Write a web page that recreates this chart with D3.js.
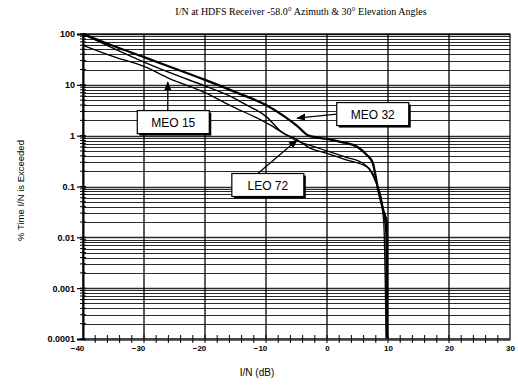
<!DOCTYPE html>
<html>
<head>
<meta charset="utf-8">
<script src="https://cdn.jsdelivr.net/npm/d3@7"></script>
<style>
  body { margin: 0; background: #fff; }
  svg { display: block; }
  .tick text { font-family: Arial, "Liberation Sans", sans-serif; font-size: 9px; font-weight: bold; fill: #000; }
</style>
</head>
<body>
<div id="chart"></div>
<script>
// I/N values (dB) and % time exceeded
var meo32X = [-40, -35, -30, -25, -20, -15, -10, -7, -5, -3, 0, 3, 5, 6.5, 7.5, 8.4, 9.2, 9.8, 9.85];
var meo32Y = [100, 58, 35, 21, 12.5, 7.2, 4.0, 2.4, 1.6, 1.0, 0.86, 0.72, 0.6, 0.42, 0.29, 0.084, 0.035, 0.019, 0.0001];

var leo72X = [-40, -35, -30, -25, -20, -15, -13.8, -10, -7.2, -5, -2.8, 0, 3.3, 6.6, 7.9, 9, 9.7, 9.75];
var leo72Y = [100, 52, 28, 16, 9.5, 5.3, 4.4, 2.4, 1.12, 0.85, 0.57, 0.45, 0.33, 0.24, 0.13, 0.05, 0.01, 0.0001];

var meo15X = [-40, -35, -30, -26, -20, -16, -10, -7, -5, -2, 0, 3, 6, 7.5, 8.5, 9.3, 9.7];
var meo15Y = [60, 36, 23, 13.6, 7.0, 4.0, 1.8, 1.1, 0.8, 0.6, 0.5, 0.38, 0.28, 0.18, 0.08, 0.02, 0.0001];

var xTicks = [-40, -30, -20, -10, 0, 10, 20, 30];
var yTicks = [100, 10, 1, 0.1, 0.01, 0.001, 0.0001];
var yTickLabels = ['100', '10', '1', '0.1', '0.01', '0.001', '0.0001'];

// callouts: label, arrow tip [dB, %], box centre [dB, %]
var labelNames = ['MEO 15', 'MEO 32', 'LEO 72'];
var labelTips = [[-26.1, 11.3], [-4.9, 2.22], [-4.9, 0.82]];
var labelBoxes = [[-25.2, 1.85], [7.5, 2.66], [-9.7, 0.107]];

var svgW = 518, svgH = 385;
var margin = { top: 34, right: 8, bottom: 46, left: 83 };
var width = svgW - margin.left - margin.right;
var height = svgH - margin.top - margin.bottom;

var x = d3.scaleLinear().domain([-40, 30]).range([0, width]);
var y = d3.scaleLog().domain([0.0001, 100]).range([height, 0]);

var svg = d3.select('#chart').append('svg')
  .attr('width', svgW)
  .attr('height', svgH);

var g = svg.append('g')
  .attr('transform', 'translate(' + margin.left + ',' + margin.top + ')');

// title
svg.append('text')
  .attr('x', 301)
  .attr('y', 15)
  .style('text-anchor', 'middle')
  .style('font-family', '"Liberation Serif", "Times New Roman", serif')
  .style('font-size', '10px')
  .text('I/N at HDFS Receiver -58.0\u00b0 Azimuth & 30\u00b0 Elevation Angles');

// horizontal grid at every log minor value
var minorVals = [];
yTicks.slice(1).forEach(function (d) {
  for (var k = 1; k <= 9; k++) minorVals.push(d * k);
});
minorVals.push(100);

g.append('g').selectAll('line')
  .data(minorVals)
  .enter().append('line')
  .attr('x1', 0)
  .attr('x2', width)
  .attr('y1', function (d) { return Math.round(y(d)) + 0.5; })
  .attr('y2', function (d) { return Math.round(y(d)) + 0.5; })
  .style('stroke', '#2a2a2a')
  .style('stroke-width', function (d) { return yTicks.indexOf(d) >= 0 ? 1.6 : 1; });

// vertical grid
g.append('g').selectAll('line')
  .data(xTicks.slice(1, -1))
  .enter().append('line')
  .attr('x1', function (d) { return x(d); })
  .attr('x2', function (d) { return x(d); })
  .attr('y1', 0)
  .attr('y2', height)
  .style('stroke', '#000')
  .style('stroke-width', 1.3);

// frame
g.append('rect')
  .attr('width', width)
  .attr('height', height)
  .style('fill', 'none')
  .style('stroke', '#000')
  .style('stroke-width', 1.2);

// curves
var line = d3.line()
  .curve(d3.curveMonotoneX)
  .x(function (d) { return x(d[0]); })
  .y(function (d) { return y(d[1]); });

function zip(xs, ys) {
  return xs.map(function (v, i) { return [v, ys[i]]; });
}

g.append('path')
  .datum(zip(meo15X, meo15Y))
  .attr('d', line)
  .style('fill', 'none')
  .style('stroke', '#000')
  .style('stroke-width', 1.3);

g.append('path')
  .datum(zip(leo72X, leo72Y))
  .attr('d', line)
  .style('fill', 'none')
  .style('stroke', '#000')
  .style('stroke-width', 1.4);

g.append('path')
  .datum(zip(meo32X, meo32Y))
  .attr('d', line)
  .style('fill', 'none')
  .style('stroke', '#000')
  .style('stroke-width', 2.3);

// x axis
var xAxis = g.append('g')
  .attr('transform', 'translate(0,' + height + ')')
  .call(d3.axisBottom(x).tickValues(xTicks).tickSize(0).tickPadding(6).tickFormat(d3.format('d')));
xAxis.select('.domain').style('stroke', '#444').style('stroke-width', 2.5);
xAxis.selectAll('.tick text')
  .attr('dx', function (d) { return d < 0 ? -6 : 0; })
  .style('font-size', '8px');

// x minor ticks every 2 dB crossing the axis
g.append('g').selectAll('line')
  .data(d3.range(-38, 30, 2))
  .enter().append('line')
  .attr('x1', function (d) { return x(d); })
  .attr('x2', function (d) { return x(d); })
  .attr('y1', height - 4)
  .attr('y2', height + 4)
  .style('stroke', '#000')
  .style('stroke-width', 1);

// y axis
var yAxis = g.append('g')
  .call(d3.axisLeft(y).tickValues(yTicks).tickSize(6).tickPadding(2)
    .tickFormat(function (d, i) { return yTickLabels[i]; }));
yAxis.select('.domain').style('stroke', '#000').style('stroke-width', 2);
yAxis.selectAll('.tick line').style('stroke', '#000').style('stroke-width', 1.2);

// y minor ticks
g.append('g').selectAll('line')
  .data(minorVals)
  .enter().append('line')
  .attr('x1', -3)
  .attr('x2', 3)
  .attr('y1', function (d) { return y(d); })
  .attr('y2', function (d) { return y(d); })
  .style('stroke', '#000')
  .style('stroke-width', 1);

// axis titles
svg.append('text')
  .attr('x', 257)
  .attr('y', 376)
  .style('text-anchor', 'middle')
  .style('font-family', 'Arial, "Liberation Sans", sans-serif')
  .style('font-size', '10px')
  .text('I/N (dB)');

svg.append('text')
  .attr('transform', 'translate(24,' + (margin.top + height / 2 + 4) + ') rotate(-90)')
  .style('text-anchor', 'middle')
  .style('font-family', 'Arial, "Liberation Sans", sans-serif')
  .style('font-size', '9.5px')
  .text('% Time I/N is Exceeded');

// callouts
svg.append('defs').append('marker')
  .attr('id', 'arrow')
  .attr('viewBox', '0 0 10 10')
  .attr('refX', 9)
  .attr('refY', 5)
  .attr('markerWidth', 7)
  .attr('markerHeight', 7)
  .attr('orient', 'auto')
  .append('path')
  .attr('d', 'M0,1 L10,5 L0,9 Z')
  .style('fill', '#000');

var boxW = 72, boxH = 23;
labelNames.forEach(function (name, i) {
  var cx = x(labelBoxes[i][0]);
  var cy = y(labelBoxes[i][1]);
  var tx = x(labelTips[i][0]);
  var ty = y(labelTips[i][1]);
  // start the arrow at the box edge facing the tip
  var sx, sy;
  if (Math.abs(tx - cx) < boxW / 2 && ty < cy) {
    sx = Math.abs(tx - cx) < 10 ? tx : cx - 10;
    sy = cy - boxH / 2;
  } else {
    sx = cx - boxW / 2; sy = cy;
  }
  g.append('line')
    .attr('x1', sx)
    .attr('y1', sy)
    .attr('x2', tx)
    .attr('y2', ty)
    .style('stroke', '#000')
    .style('stroke-width', 1.3)
    .attr('marker-end', 'url(#arrow)');

  g.append('rect')
    .attr('x', cx - boxW / 2 + 2)
    .attr('y', cy - boxH / 2 + 2)
    .attr('width', boxW)
    .attr('height', boxH)
    .style('fill', '#000');
  g.append('rect')
    .attr('x', cx - boxW / 2)
    .attr('y', cy - boxH / 2)
    .attr('width', boxW)
    .attr('height', boxH)
    .style('fill', '#fff')
    .style('stroke', '#000')
    .style('stroke-width', 1.2);
  g.append('text')
    .attr('x', cx)
    .attr('y', cy + 4.5)
    .style('text-anchor', 'middle')
    .style('font-family', 'Arial, "Liberation Sans", sans-serif')
    .style('font-size', '12px')
    .text(name);
});
</script>
</body>
</html>
